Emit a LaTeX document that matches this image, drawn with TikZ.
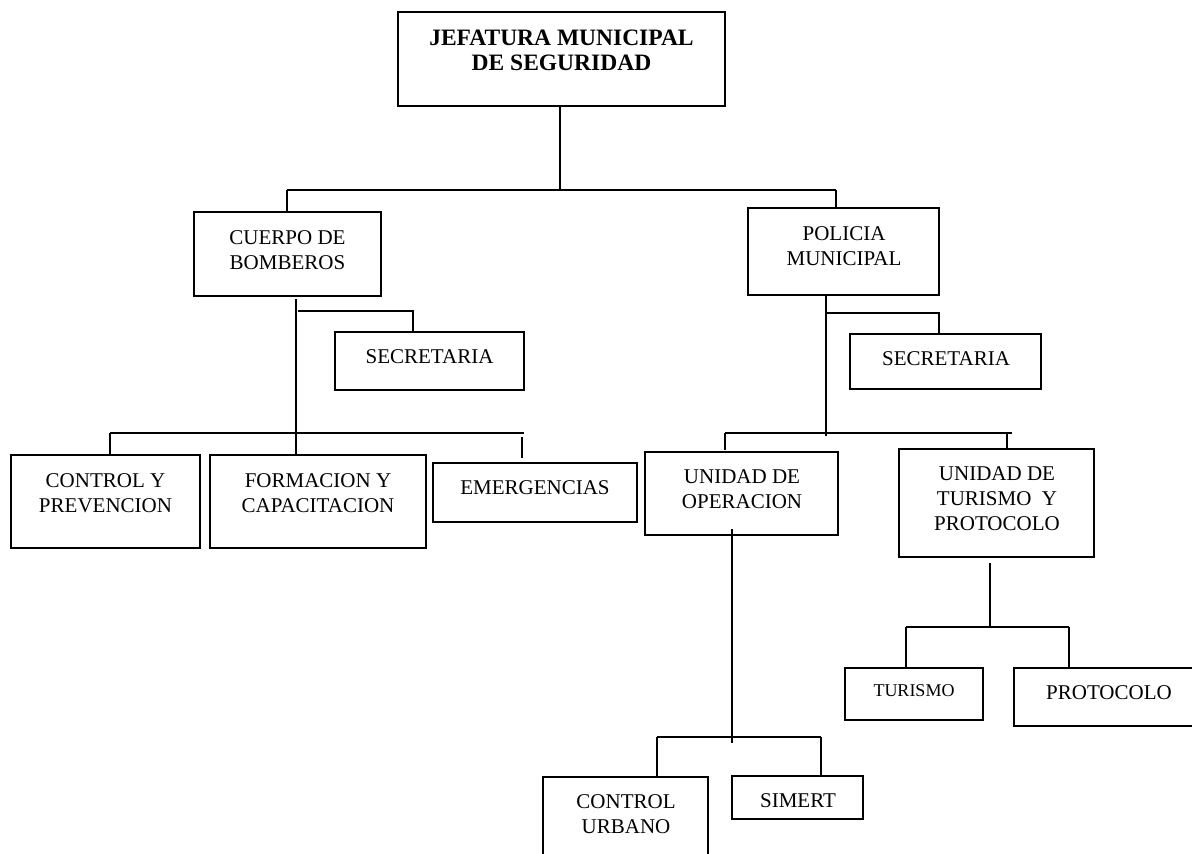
\documentclass[tikz,border=0pt]{standalone}
\usepackage{fontspec}
\setmainfont{Liberation Serif}
\begin{document}
\begin{tikzpicture}[x=1pt,y=-1pt,
  box/.style={draw, line width=1.8pt, rectangle, inner sep=0pt},
  txt/.style={anchor=north, inner sep=0pt, align=center, font=\fontsize{21}{25}\selectfont},
  smalltxt/.style={anchor=north, inner sep=0pt, align=center, font=\fontsize{18}{22}\selectfont},
  ttl/.style={anchor=north, inner sep=0pt, align=center, font=\fontsize{23.5}{25}\selectfont\bfseries},
  con/.style={line width=1.8pt}]
\useasboundingbox (0,0) rectangle (1192,854);
\clip (0,0) rectangle (1192,854);

% boxes
\node[box, minimum width=327pt, minimum height=94pt] (jef) at (561.5,59) {};
\node[box, minimum width=187pt, minimum height=84pt] (bomb) at (287.5,254) {};
\node[box, minimum width=191pt, minimum height=87pt] (pol) at (843.5,251.5) {};
\node[box, minimum width=189pt, minimum height=58pt] (secL) at (429.5,361) {};
\node[box, minimum width=191pt, minimum height=55pt] (secR) at (945.5,361.5) {};
\node[box, minimum width=189pt, minimum height=93pt] (ctrl) at (105.5,501.5) {};
\node[box, minimum width=216pt, minimum height=93pt] (form) at (318,501.5) {};
\node[box, minimum width=204pt, minimum height=59pt] (emer) at (535,492.5) {};
\node[box, minimum width=193pt, minimum height=83pt] (oper) at (741.5,493.5) {};
\node[box, minimum width=195pt, minimum height=108pt] (utur) at (996.5,503) {};
\node[box, minimum width=165pt, minimum height=93pt] (curb) at (625.5,823.5) {};
\node[box, minimum width=131pt, minimum height=43pt] (sim) at (797.5,797.5) {};
\node[box, minimum width=138pt, minimum height=52pt] (turi) at (914,694) {};
\node[box, minimum width=192pt, minimum height=58pt] (prot) at (1110,697) {};

% texts
\node[ttl] (jef-t) at (561.5,30) {JEFATURA MUNICIPAL\\DE SEGURIDAD};
\node[txt] (bomb-t) at (287.5,230) {CUERPO DE\\BOMBEROS};
\node[txt] (pol-t) at (844,226) {POLICIA\\MUNICIPAL};
\node[txt] (secL-t) at (429.5,349) {SECRETARIA};
\node[txt] (secR-t) at (946,351) {SECRETARIA};
\node[txt] (ctrl-t) at (105.5,473) {CONTROL Y\\PREVENCION};
\node[txt] (form-t) at (318,473) {FORMACION Y\\CAPACITACION};
\node[txt] (emer-t) at (535,480) {EMERGENCIAS};
\node[txt] (oper-t) at (742,469) {UNIDAD DE\\OPERACION};
\node[txt] (utur-t) at (997,466) {UNIDAD DE\\TURISMO\ \ Y\\PROTOCOLO};
\node[txt] (curb-t) at (626,794) {CONTROL\\URBANO};
\node[txt] (sim-t) at (798,793) {SIMERT};
\node[smalltxt] (turi-t) at (914,684) {TURISMO};
\node[txt] (prot-t) at (1109,685) {PROTOCOLO};

% junction coordinates
\coordinate (j0) at (560,190);
\coordinate (j0L) at (287,190);
\coordinate (j0R) at (836,190);
\coordinate (b0) at (296,299);
\coordinate (b1) at (298,311);
\coordinate (b1R) at (413,311);
\coordinate (b2L) at (110,433);
\coordinate (b2R) at (524,433);
\coordinate (b3a) at (522,437);
\coordinate (b3b) at (522,458);
\coordinate (p1) at (826,313);
\coordinate (p1R) at (939,313);
\coordinate (p2) at (826,436);
\coordinate (p2L) at (725,433);
\coordinate (p2R) at (1012,433);
\coordinate (p2d) at (1007,433);
\coordinate (o0) at (732,529);
\coordinate (o1) at (732,743);
\coordinate (o1L) at (657,737);
\coordinate (o1R) at (821,737);
\coordinate (t0) at (990,563);
\coordinate (t1) at (990,627);
\coordinate (t1L) at (906,627);
\coordinate (t1R) at (1069,627);

% connectors: jefatura
\draw[con] (j0 |- jef.south) -- (j0);
\draw[con] (j0L) -- (j0R);
\draw[con] (j0L) -- (j0L |- bomb.north);
\draw[con] (j0R) -- (j0R |- pol.north);

% bomberos
\draw[con] (b0) -- (b0 |- form.north);
\draw[con] (b1) -- (b1R) -- (b1R |- secL.north);
\draw[con] (b2L) -- (b2R);
\draw[con] (b2L) -- (b2L |- ctrl.north);
\draw[con] (b3a) -- (b3b);

% policia
\draw[con] (p1 |- pol.south) -- (p2);
\draw[con] (p1) -- (p1R) -- (p1R |- secR.north);
\draw[con] (p2L) -- (p2R);
\draw[con] (p2L) -- ([yshift=1pt]p2L |- oper.north);
\draw[con] (p2d) -- (p2d |- utur.north);

% operacion
\draw[con] (o0) -- (o1);
\draw[con] (o1L) -- (o1R);
\draw[con] (o1L) -- (o1L |- curb.north);
\draw[con] (o1R) -- (o1R |- sim.north);

% turismo y protocolo
\draw[con] (t0) -- (t1);
\draw[con] (t1L) -- (t1R);
\draw[con] (t1L) -- (t1L |- turi.north);
\draw[con] (t1R) -- (t1R |- prot.north);
\end{tikzpicture}
\end{document}
